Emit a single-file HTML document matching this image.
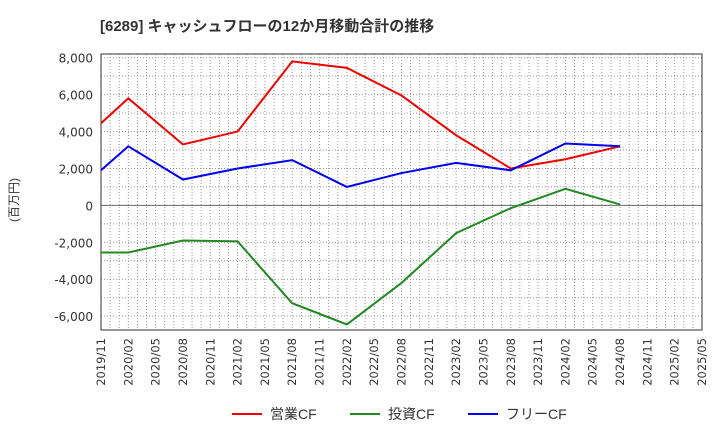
<!DOCTYPE html>
<html><head><meta charset="utf-8"><style>
body{margin:0;background:#fff;font-family:"Liberation Sans","Noto Sans CJK JP",sans-serif}
</style></head><body>
<svg id="c" width="720" height="440" xmlns="http://www.w3.org/2000/svg">
<text x="100" y="31" font-size="15" font-weight="bold" fill="#333">[6289]  キャッシュフローの12か月移動合計の推移</text>
<text x="18" y="200" font-size="12" fill="#333" transform="rotate(-90 18 200)" text-anchor="middle">(百万円)</text>
<g id="grid"></g><g id="axes"></g><g id="series"></g><g id="legend"></g>
</svg>
<script>
const ticks=["2019/11","2020/02","2020/05","2020/08","2020/11","2021/02","2021/05","2021/08","2021/11","2022/02","2022/05","2022/08","2022/11","2023/02","2023/05","2023/08","2023/11","2024/02","2024/05","2024/08","2024/11","2025/02","2025/05"];
const yTicks=[-6000,-4000,-2000,0,2000,4000,6000,8000];
const pointIdx=[0,1,3,5,7,9,11,13,15,17,19];
const opCF=[4450,5800,3300,4000,7800,7450,5950,3800,2000,2500,3200];
const invCF=[-2550,-2550,-1900,-1950,-5300,-6450,-4200,-1500,-150,900,50];
const freeCF=[1900,3200,1400,2000,2450,1000,1750,2300,1900,3350,3200];
const L=101,R=702,T=54,B=330,yMin=-6750,yMax=8200;
const X=i=>L+(R-L)*i/(ticks.length-1);
const Y=v=>B-(B-T)*(v-yMin)/(yMax-yMin);
const NS="http://www.w3.org/2000/svg";
function mk(p,tag,a){const e=document.createElementNS(NS,tag);for(const k in a)e.setAttribute(k,a[k]);p.appendChild(e);return e;}
const g=document.getElementById('grid'),ax=document.getElementById('axes'),s=document.getElementById('series'),lg=document.getElementById('legend');
for(let m=1;m<(ticks.length-1)*3;m++){const x=L+(R-L)*m/((ticks.length-1)*3);
 const l=mk(g,'line',{x1:x,x2:x,y1:T,y2:B,stroke:'#999','stroke-dasharray':'1,2','stroke-width':1});
 
 }
for(let v=-6000;v<=8000;v+=1000){if(v===0)continue;const y=Y(v);
 const l=mk(g,'line',{x1:L,x2:R,y1:y,y2:y,stroke:'#999','stroke-dasharray':'1,2','stroke-width':1});
 
 }
const z=mk(ax,'line',{x1:L,x2:R,y1:Y(0),y2:Y(0),stroke:'#666','stroke-width':1});


const fr=mk(ax,'rect',{x:L,y:T,width:R-L,height:B-T,fill:'none',stroke:'#333','stroke-width':1});


yTicks.forEach(v=>{const t=mk(ax,'text',{x:L-8,y:Y(v)+5,'text-anchor':'end','font-size':12,fill:'#333','font-family':'DejaVu Sans, sans-serif'});t.textContent=v.toLocaleString('en-US');
 
 });
ticks.forEach((tk,i)=>{const x=X(i)+4,y=B+8;const t=mk(ax,'text',{x:x,y:y,'text-anchor':'end','font-size':11.5,fill:'#333','font-family':'DejaVu Sans, sans-serif',transform:`rotate(-90 ${x} ${y})`});t.textContent=tk;
 
 });
[[opCF,'#ee0000','operating-cf-line'],[invCF,'#228822','investing-cf-line'],[freeCF,'#0000ee','free-cf-line']].forEach(([d,c,n])=>{
 const p=mk(s,'polyline',{points:d.map((v,k)=>X(pointIdx[k])+','+Y(v)).join(' '),fill:'none',stroke:c,'stroke-width':2});
 
 });
[['営業CF','#ee0000',232,'legend-operating-cf'],['投資CF','#228822',350,'legend-investing-cf'],['フリーCF','#0000ee',468,'legend-free-cf']].forEach(([t,c,x,n])=>{
 const gg=mk(lg,'g',{});
 
 
 mk(gg,'line',{x1:x,x2:x+30,y1:414,y2:414,stroke:c,'stroke-width':2});
 const tx=mk(gg,'text',{x:x+38,y:419,'font-size':14,fill:'#333'});tx.textContent=t;});
</script>
</body></html>
